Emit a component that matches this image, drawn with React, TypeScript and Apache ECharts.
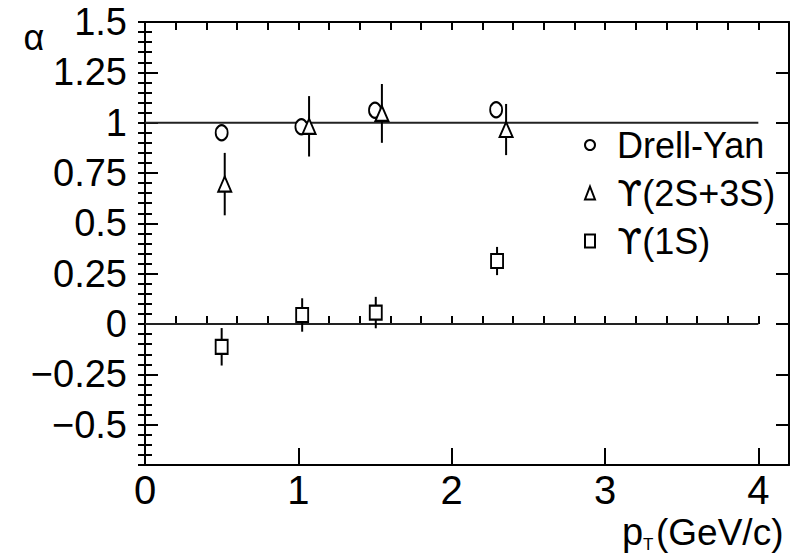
import React, { useEffect, useRef } from "react";
import * as echarts from "echarts";

// Drell-Yan (open circles)
const dyX = [0.5, 1.02, 1.5, 2.29];
const dyY = [0.95, 0.98, 1.062, 1.064];

// Upsilon(2S+3S) (open triangles) with vertical errors
const ups23X = [0.52, 1.07, 1.545, 2.355];
const ups23Y = [0.695, 0.982, 1.046, 0.966];
const ups23Err = [0.155, 0.15, 0.146, 0.127];

// Upsilon(1S) (open squares) with vertical errors
const ups1X = [0.5, 1.025, 1.505, 2.296];
const ups1Y = [-0.113, 0.045, 0.057, 0.313];
const ups1Err = [0.093, 0.083, 0.078, 0.07];

const seriesNames = ["Drell-Yan", "ϒ(2S+3S)", "ϒ(1S)"];
const xTickLabels = [0, 1, 2, 3, 4];
const yTickLabels = [-0.5, -0.25, 0, 0.25, 0.5, 0.75, 1, 1.25, 1.5];
const refLineY = [0, 1];
const refLineX = [0, 4];

const X_MIN = 0;
const X_MAX = 4.2;
const Y_MIN = -0.7;
const Y_MAX = 1.5;

const FONT = "'Liberation Sans', Arial, Helvetica, sans-serif";
const UFONT = "'DejaVu Sans', 'Liberation Sans', sans-serif";

function steps(from: number, to: number, step: number): number[] {
  const out: number[] = [];
  const n = Math.round((to - from) / step);
  for (let i = 0; i <= n; i++) out.push(Math.round((from + i * step) * 1000) / 1000);
  return out;
}

export default function App() {
  const ref = useRef<HTMLDivElement>(null);

  useEffect(() => {
    if (!ref.current) return;
    const chart = echarts.init(ref.current, undefined, { renderer: "svg" });

    const xMinor = steps(X_MIN, X_MAX, 0.2);
    const yMinor = steps(Y_MIN, Y_MAX, 0.05);

    const black = "#000";
    const axisBase = {
      type: "value" as const,
      splitLine: { show: false },
      axisLine: { show: true, onZero: false, lineStyle: { color: black, width: 2 } },
    };

    const xAx = (extra: any) => ({ ...axisBase, min: X_MIN, max: X_MAX, ...extra });
    const yAx = (extra: any) => ({ ...axisBase, min: Y_MIN, max: Y_MAX, ...extra });

    const errData = (xs: number[], ys: number[], es: number[]) =>
      xs.map((x, i) => [x, ys[i] - es[i], ys[i] + es[i]]);

    const errSeries = (data: number[][]) => ({
      type: "custom",
      xAxisIndex: 0,
      yAxisIndex: 0,
      silent: true,
      z: 2,
      data,
      encode: { x: 0, y: [1, 2] },
      renderItem: (_p: any, api: any) => {
        const x = api.value(0);
        const a = api.coord([x, api.value(1)]);
        const b = api.coord([x, api.value(2)]);
        return {
          type: "line",
          shape: { x1: a[0], y1: a[1], x2: b[0], y2: b[1] },
          style: { stroke: black, lineWidth: 2 },
        };
      },
    });

    const markerStyle = { color: "#fff", borderColor: black, borderWidth: 2, opacity: 1 };

    const option: any = {
      animation: false,
      backgroundColor: "#fff",
      textStyle: { fontFamily: FONT },
      grid: { left: 145, top: 22, right: 10, bottom: 90, containLabel: false },
      xAxis: [
        xAx({
          position: "bottom",
          axisTick: {
            show: true,
            inside: true,
            length: 17,
            customValues: xTickLabels,
            lineStyle: { color: black, width: 2 },
          },
          axisLabel: {
            show: true,
            customValues: xTickLabels,
            margin: 8,
            fontSize: 40,
            lineHeight: 34,
            color: black,
            fontFamily: FONT,
          },
        }),
        xAx({
          position: "bottom",
          axisLine: { show: false },
          axisTick: { show: true, inside: true, length: 8, customValues: xMinor, lineStyle: { color: black, width: 2 } },
          axisLabel: { show: false },
        }),
        xAx({
          position: "top",
          axisTick: { show: true, inside: true, length: 8, customValues: xMinor, lineStyle: { color: black, width: 2 } },
          axisLabel: { show: false },
        }),
      ],
      yAxis: [
        yAx({
          position: "left",
          axisTick: {
            show: true,
            inside: true,
            length: 13,
            customValues: yTickLabels,
            lineStyle: { color: black, width: 2 },
          },
          axisLabel: {
            show: true,
            customValues: yTickLabels,
            margin: 18,
            fontSize: 38,
            color: black,
            fontFamily: FONT,
            formatter: (v: number) => String(v).replace("-", "\u2212"),
          },
        }),
        yAx({
          position: "left",
          axisLine: { show: false },
          axisTick: { show: true, inside: true, length: 7, customValues: yMinor, lineStyle: { color: black, width: 2 } },
          axisLabel: { show: false },
        }),
        yAx({
          position: "right",
          axisTick: { show: true, inside: true, length: 13, customValues: yTickLabels, lineStyle: { color: black, width: 2 } },
          axisLabel: { show: false },
        }),
        yAx({
          position: "right",
          axisLine: { show: false },
          axisTick: { show: true, inside: true, length: 7, customValues: yMinor, lineStyle: { color: black, width: 2 } },
          axisLabel: { show: false },
        }),
      ],
      legend: {
        show: true,
        orient: "vertical",
        left: 584,
        top: 125,
        padding: 0,
        itemWidth: 10,
        itemHeight: 13,
        itemGap: 8,
        data: seriesNames,
        selectedMode: false,
        formatter: (name: string) =>
          name.charAt(0) === "ϒ" ? "{u|ϒ}{t|" + name.slice(1) + "}" : "{t|" + name + "}",
        textStyle: {
          fontSize: 36,
          lineHeight: 40,
          color: black,
          fontFamily: FONT,
          padding: [0, 0, 0, 17],
          rich: {
            u: { fontSize: 36, lineHeight: 40, fontFamily: UFONT, color: black },
            t: { fontSize: 36, lineHeight: 40, fontFamily: FONT, color: black },
          },
        },
      },
      graphic: [
        {
          type: "text",
          x: 34,
          y: 37,
          style: {
            text: "α",
            fontSize: 36,
            lineHeight: 36,
            fontFamily: FONT,
            fill: black,
            align: "center",
            verticalAlign: "middle",
          },
        },
        {
          type: "text",
          x: 622,
          y: 532,
          style: { text: "p", fontSize: 38, lineHeight: 38, fontFamily: FONT, fill: black, align: "left", verticalAlign: "middle" },
        },
        {
          type: "text",
          x: 643,
          y: 544,
          style: { text: "T", fontSize: 17, lineHeight: 17, fontFamily: FONT, fill: black, align: "left", verticalAlign: "middle" },
        },
        {
          type: "text",
          x: 656,
          y: 532,
          style: { text: "(GeV/c)", fontSize: 37, lineHeight: 37, fontFamily: FONT, fill: black, align: "left", verticalAlign: "middle" },
        },
      ],
      series: [
        ...refLineY.map((yv) => ({
          type: "line",
          xAxisIndex: 0,
          yAxisIndex: 0,
          silent: true,
          symbol: "none",
          z: 1,
          lineStyle: { color: "#222", width: 2 },
          data: refLineX.map((xv) => [xv, yv]),
        })),
        errSeries(errData(ups23X, ups23Y, ups23Err)),
        errSeries(errData(ups1X, ups1Y, ups1Err)),
        {
          name: seriesNames[0],
          type: "scatter",
          xAxisIndex: 0,
          yAxisIndex: 0,
          symbol: "circle",
          symbolSize: [12, 15],
          z: 3,
          itemStyle: markerStyle,
          data: dyX.map((x, i) => [x, dyY[i]]),
        },
        {
          name: seriesNames[1],
          type: "scatter",
          xAxisIndex: 0,
          yAxisIndex: 0,
          symbol: "triangle",
          symbolSize: [13, 15],
          z: 4,
          itemStyle: markerStyle,
          data: ups23X.map((x, i) => [x, ups23Y[i]]),
        },
        {
          name: seriesNames[2],
          type: "scatter",
          xAxisIndex: 0,
          yAxisIndex: 0,
          symbol: "rect",
          symbolSize: [12, 14],
          z: 3,
          itemStyle: markerStyle,
          data: ups1X.map((x, i) => [x, ups1Y[i]]),
        },
      ],
    };

    chart.setOption(option);
    return () => chart.dispose();
  }, []);

  return (
    <div
      ref={ref}
      style={{ position: "absolute", left: 0, top: 0, width: 799, height: 555, background: "#fff" }}
    />
  );
}
